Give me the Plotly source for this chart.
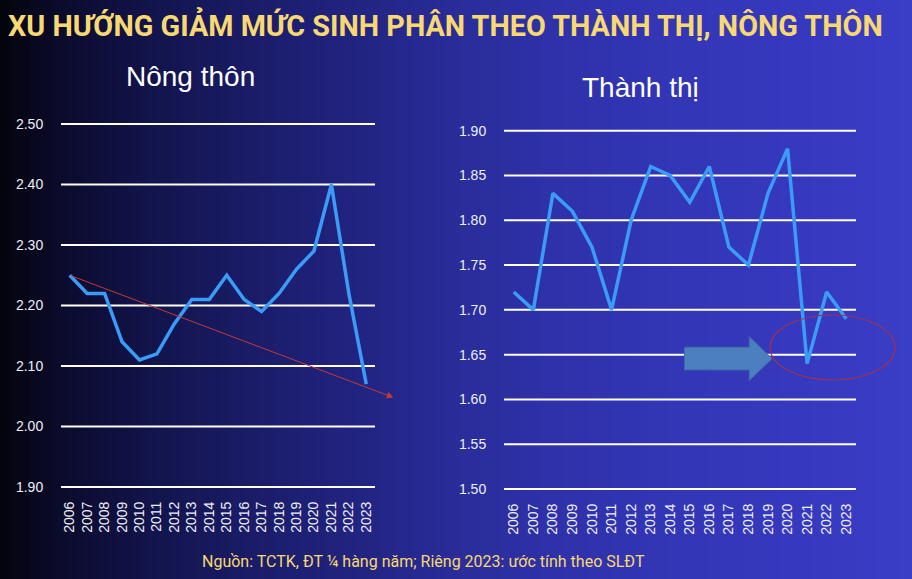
import base64, struct, zlib
import plotly.graph_objects as go

# ---------------- data ----------------
years = [str(y) for y in range(2006, 2024)]
rural_tfr = [2.25, 2.22, 2.22, 2.14, 2.11, 2.12, 2.17, 2.21, 2.21, 2.25,
             2.21, 2.19, 2.22, 2.26, 2.29, 2.40, 2.22, 2.07]
urban_tfr = [1.72, 1.70, 1.83, 1.81, 1.77, 1.70, 1.80, 1.86, 1.85, 1.82,
             1.86, 1.77, 1.75, 1.83, 1.88, 1.64, 1.72, 1.69]
rural_ticks = [1.90, 2.00, 2.10, 2.20, 2.30, 2.40, 2.50]
urban_ticks = [1.50, 1.55, 1.60, 1.65, 1.70, 1.75, 1.80, 1.85, 1.90]
# hand-drawn trend arrow on rural panel: (category index, value)
trend_start = (0.0, 2.25)
trend_end = (18.55, 2.048)

title_text = "XU HƯỚNG GIẢM MỨC SINH PHÂN THEO THÀNH THỊ, NÔNG THÔN"
rural_title = "Nông thôn"
urban_title = "Thành thị"
source_text = "Nguồn: TCTK, ĐT ¼ hàng năm; Riêng 2023: ước tính theo SLĐT"

W, H = 912, 579
LINE_BLUE = "#3a9cf7"
YELLOW = "#f7d872"


def px(x):
    return x / W


def py(y):
    return 1 - y / H


def y_axis_layout(v_lo, y_lo, v_hi, y_hi, pad=8):
    """domain/range so that v_lo sits at pixel y_lo and v_hi at y_hi"""
    scale = (y_lo - y_hi) / (v_hi - v_lo)
    dom = [py(y_lo + pad), py(y_hi - pad)]
    rng = [v_lo - pad / scale, v_hi + pad / scale]
    return dom, rng


# ---------------- gradient background (PNG data URI) ----------------
stops = [(0, (4, 4, 14)), (60, (11, 11, 45)), (150, (18, 20, 76)),
         (250, (26, 28, 104)), (350, (33, 35, 128)), (450, (41, 44, 152)),
         (550, (46, 49, 168)), (650, (50, 53, 180)), (800, (54, 57, 190)),
         (912, (58, 62, 198))]


def lerp_color(x):
    for (x0, c0), (x1, c1) in zip(stops[:-1], stops[1:]):
        if x0 <= x <= x1:
            t = (x - x0) / (x1 - x0)
            return tuple(int(round(a + (b - a) * t)) for a, b in zip(c0, c1))
    return stops[-1][1]


def make_png(width, height):
    row = b""
    for i in range(width):
        row += bytes(lerp_color(i * W / (width - 1)))
    raw = b"".join(b"\x00" + row for _ in range(height))

    def chunk(tag, data):
        c = struct.pack(">I", len(data)) + tag + data
        return c + struct.pack(">I", zlib.crc32(tag + data) & 0xffffffff)

    png = b"\x89PNG\r\n\x1a\n"
    png += chunk(b"IHDR", struct.pack(">IIBBBBB", width, height, 8, 2, 0, 0, 0))
    png += chunk(b"IDAT", zlib.compress(raw, 9))
    png += chunk(b"IEND", b"")
    return "data:image/png;base64," + base64.b64encode(png).decode()


bg_uri = make_png(456, 2)

# ---------------- figure ----------------
fig = go.Figure()
fig.add_trace(go.Scatter(x=years, y=rural_tfr, mode="lines",
                         line=dict(color=LINE_BLUE, width=3.5),
                         xaxis="x", yaxis="y", showlegend=False,
                         hoverinfo="x+y"))
fig.add_trace(go.Scatter(x=years, y=urban_tfr, mode="lines",
                         line=dict(color=LINE_BLUE, width=3.5),
                         xaxis="x2", yaxis="y2", showlegend=False,
                         hoverinfo="x+y"))

tickfont = dict(family="Liberation Sans, Arial, sans-serif", size=14, color="#eeeef5")

xcommon = dict(type="category", tickangle=-90, tickfont=tickfont,
               range=[-0.5, len(years) - 0.5], autorange=False,
               tickmode="linear", tick0=0, dtick=1,
               showgrid=False, showline=False, zeroline=False,
               ticks="outside", ticklen=0, tickcolor="rgba(0,0,0,0)",
               fixedrange=True)
ycommon = dict(tickformat=".2f", tickfont=tickfont, showgrid=False,
               zeroline=False, showline=False,
               ticks="outside", ticklen=14, tickcolor="rgba(0,0,0,0)",
               tickmode="array", fixedrange=True, autorange=False)

dom1, rng1 = y_axis_layout(rural_ticks[0], 487, rural_ticks[-1], 124)
dom2, rng2 = y_axis_layout(urban_ticks[0], 489, urban_ticks[-1], 130.7)

fig.update_layout(
    width=W, height=H,
    margin=dict(l=0, r=0, t=0, b=0),
    paper_bgcolor="#0b0b30",
    plot_bgcolor="rgba(0,0,0,0)",
    xaxis=dict(domain=[px(61), px(375)], anchor="y", **xcommon),
    yaxis=dict(domain=dom1, anchor="x", range=rng1, tickvals=rural_ticks, **ycommon),
    xaxis2=dict(domain=[px(504), px(856)], anchor="y2", **xcommon),
    yaxis2=dict(domain=dom2, anchor="x2", range=rng2, tickvals=urban_ticks, **ycommon),
    images=[dict(source=bg_uri, xref="paper", yref="paper", x=0, y=1,
                 sizex=1, sizey=1, sizing="stretch", xanchor="left",
                 yanchor="top", layer="below")],
)

# horizontal gridlines (drawn as shapes so the edge lines show too)
for xr, yr, ticks in (("x", "y", rural_ticks), ("x2", "y2", urban_ticks)):
    for v in ticks:
        fig.add_shape(type="line", xref=f"{xr} domain", yref=yr, layer="below",
                      x0=0, x1=1, y0=v, y1=v,
                      line=dict(color="#ffffff", width=2))

# trend arrow (rural)
fig.add_annotation(x=trend_end[0], y=trend_end[1], xref="x", yref="y",
                   ax=trend_start[0], ay=trend_start[1], axref="x", ayref="y",
                   text="", showarrow=True, arrowhead=2, arrowsize=1.3,
                   arrowwidth=1, arrowcolor="#c23a32", standoff=0)

# block arrow on urban panel
fig.add_shape(type="path", xref="x2", yref="y2", layer="above",
              path="M 8.73,1.6583 L 12.04,1.6583 L 12.04,1.6701 L 13.21,1.6455 "
                   "L 12.04,1.621 L 12.04,1.6329 L 8.73,1.6329 Z",
              fillcolor="#4b7fbd", line=dict(color="#3f6aa3", width=1))
# highlight ellipse (extends beyond plot area -> paper coords)
fig.add_shape(type="circle", xref="paper", yref="paper", layer="above",
              x0=px(770), x1=px(895), y0=py(380), y1=py(315),
              line=dict(color="#a3304e", width=1.2))

# texts
fig.add_annotation(text=title_text, x=px(445), y=py(25), xref="paper", yref="paper",
                   showarrow=False, xanchor="center", yanchor="middle",
                   font=dict(family="Roboto, sans-serif", size=28.8, color=YELLOW,
                             weight=700))
fig.add_annotation(text=rural_title, x=px(190), y=py(77), xref="paper", yref="paper",
                   showarrow=False, xanchor="center", yanchor="middle",
                   font=dict(family="Liberation Sans, Arial, sans-serif", size=28,
                             color="#ffffff"))
fig.add_annotation(text=urban_title, x=px(640), y=py(88), xref="paper", yref="paper",
                   showarrow=False, xanchor="center", yanchor="middle",
                   font=dict(family="Liberation Sans, Arial, sans-serif", size=28,
                             color="#ffffff"))
fig.add_annotation(text=source_text, x=px(423), y=py(561), xref="paper", yref="paper",
                   showarrow=False, xanchor="center", yanchor="middle",
                   font=dict(family="Roboto, sans-serif", size=16, color=YELLOW))

fig.write_html("out.html",
               config={"displayModeBar": False},
               post_script="document.body.style.margin='0';"
                           "document.body.style.overflow='hidden';")
